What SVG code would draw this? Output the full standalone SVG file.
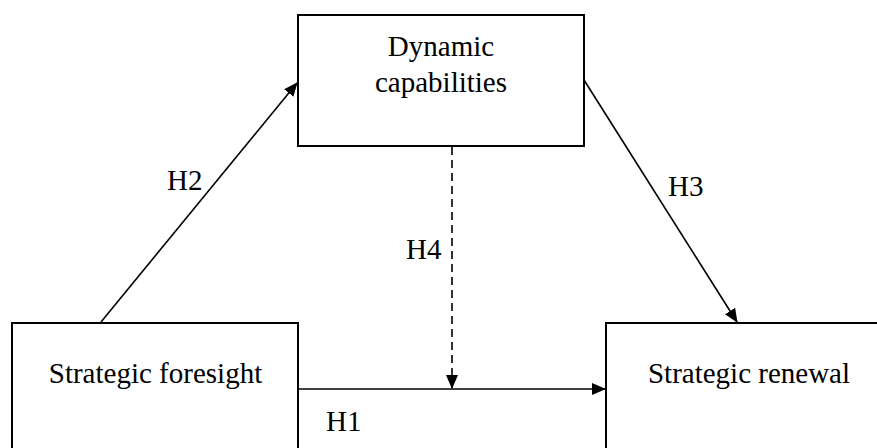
<svg xmlns="http://www.w3.org/2000/svg" width="877" height="448" viewBox="0 0 877 448">
  <style>
    .box { fill: #ffffff; stroke: #000000; stroke-width: 2; }
    .lbl { font-family: "Liberation Serif", "Times New Roman", serif; font-size: 29px; fill: #000000; }
    .mid { text-anchor: middle; }
    .edge { stroke: #000000; stroke-width: 1.6; fill: none; }
    .dash { stroke-dasharray: 8 5; }
  </style>
  <defs>
    <marker id="arrow" markerUnits="userSpaceOnUse" markerWidth="14" markerHeight="12" refX="13" refY="6" orient="auto" viewBox="0 0 14 12">
      <path d="M0,0 L14,6 L0,12 z" fill="#000000"/>
    </marker>
  </defs>
  <rect width="877" height="448" fill="#ffffff"/>
  <g id="node-dynamic">
    <rect class="box" x="298" y="15" width="286" height="131"/>
    <text class="lbl mid" x="441" y="56">Dynamic</text>
    <text class="lbl mid" x="441" y="92">capabilities</text>
  </g>
  <g id="node-foresight">
    <rect class="box" x="12" y="323" width="286" height="140"/>
    <text class="lbl mid" x="155.5" y="383">Strategic foresight</text>
  </g>
  <g id="node-renewal">
    <rect class="box" x="606" y="323" width="286" height="140"/>
    <text class="lbl mid" x="749" y="383">Strategic renewal</text>
  </g>
  <g id="connectors">
    <line class="edge" x1="101" y1="322" x2="297" y2="83" marker-end="url(#arrow)"/>
    <line class="edge" x1="584" y1="80" x2="737" y2="322" marker-end="url(#arrow)"/>
    <line class="edge" x1="299" y1="389" x2="605" y2="389" marker-end="url(#arrow)"/>
    <line class="edge dash" x1="452" y1="147" x2="452" y2="388" marker-end="url(#arrow)"/>
    <text class="lbl" x="167" y="190">H2</text>
    <text class="lbl" x="668" y="196">H3</text>
    <text class="lbl" x="406" y="259">H4</text>
    <text class="lbl" x="326" y="431">H1</text>
  </g>
</svg>
